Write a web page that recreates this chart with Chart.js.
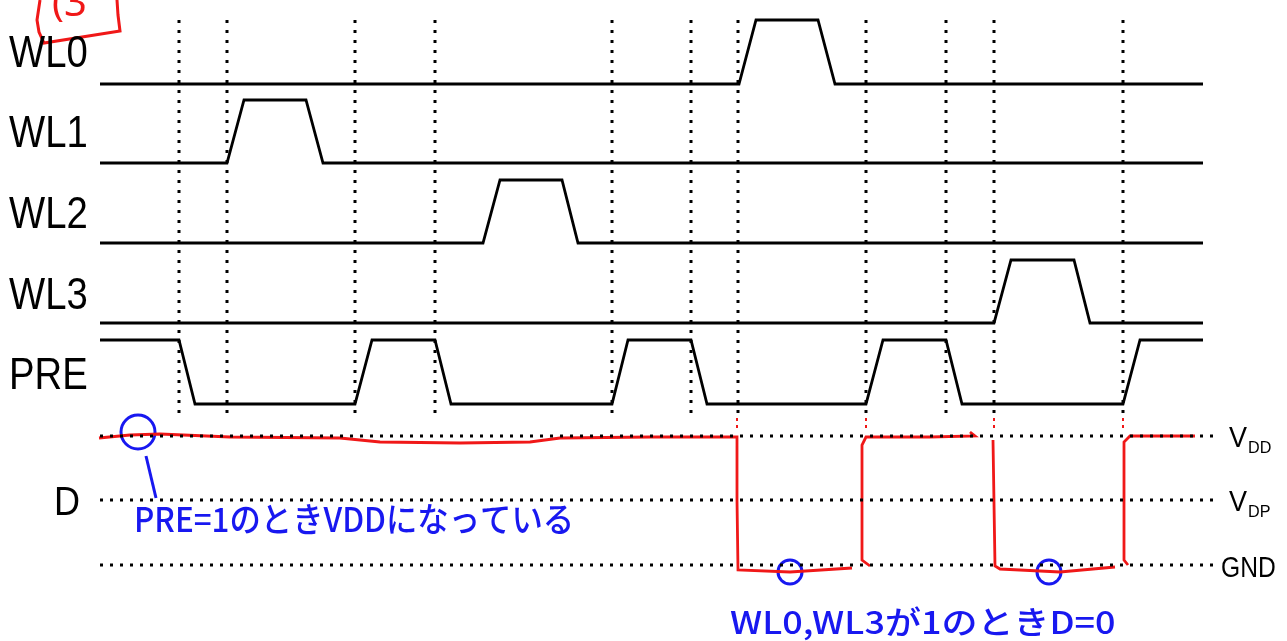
<!DOCTYPE html>
<html>
<head>
<meta charset="utf-8">
<script src="https://cdn.jsdelivr.net/npm/chart.js@4"></script>
<style>
  html, body { margin: 0; padding: 0; background: #fff; }
  #wrap { width: 1287px; height: 641px; position: relative; }
</style>
</head>
<body>
<div id="wrap"><canvas id="timing"></canvas></div>
<script>
(function () {
  "use strict";

  /* ===== Signals (time on x, level on y; drawing units of the sheet) ===== */
  var SIGNALS = ["WL0", "WL1", "WL2", "WL3", "PRE"];
  var SIGNAL_LABEL_Y = [67, 147, 228, 309, 389];

  var WL0_T = [100, 739, 756, 818, 835, 1203];
  var WL0_V = [84, 84, 20, 20, 84, 84];
  var WL1_T = [100, 227, 244, 306, 323, 1203];
  var WL1_V = [163, 163, 100, 100, 163, 163];
  var WL2_T = [100, 483, 500, 562, 578, 1203];
  var WL2_V = [243, 243, 180, 180, 243, 243];
  var WL3_T = [100, 994, 1011, 1074, 1090, 1203];
  var WL3_V = [323, 323, 260, 260, 323, 323];
  var PRE_T = [100, 179, 195, 355, 372, 435, 451, 612, 628, 691, 707, 866, 883, 946, 962, 1123, 1140, 1203];
  var PRE_V = [340, 340, 404, 404, 340, 340, 404, 404, 340, 340, 404, 404, 340, 340, 404, 404, 340, 340];

  // dotted time markers
  var MARK_T = [179, 227, 355, 435, 612, 691, 738, 866, 946, 994, 1123];
  var MARK_TOP = 20;
  var MARK_BOT = 416;

  // D levels
  var LEVEL_NAMES = ["VDD", "VDP", "GND"];
  var LEVEL_Y = [436, 500, 565];
  var LEVEL_X0 = 100;
  var LEVEL_X1 = 1215;

  // hand drawn D trace (red), null = pen lifted
  var D_T = [99, 130, 160, 230, 340, 380, 460, 530, 560, 650, 737, 737, 738, 790, 852,
             null, 870, 862, 862, 866, 930, 975, 970,
             null, 993, 995, 1000, 1060, 1115,
             null, 1128, 1124, 1124, 1130, 1195];
  var D_V = [438, 435, 434, 437, 438, 442, 443, 442, 438, 437, 437, 500, 570, 572, 568,
             null, 566, 560, 445, 437, 437, 436, 432,
             null, 440, 566, 569, 572, 567,
             null, 565, 560, 442, 436, 436];
  var TICK_T = [737, 737, null, 866, 866, null, 994, 994, null, 1123, 1123];
  var TICK_V = [418, 430, null, 418, 430, null, 418, 430, null, 418, 430];

  // red box top-left
  var BOX_T = [40, 37, 39, 44, 120, 118, 117];
  var BOX_V = [0, 20, 32, 43, 31, 15, 0];

  // blue marks
  var CIRCLE_T = [138, 790, 1049];
  var CIRCLE_V = [432, 572, 572];
  var CIRCLE_R = [17, 12, 12];
  var LEADER_T = [146, 156];
  var LEADER_V = [456, 498];

  var NOTE_TOP = "PRE=1のときVDDになっている";
  var NOTE_BOTTOM = "WL0,WL3が1のときD=0";

  var BLACK = "#000000";
  var RED = "#f01818";
  var BLUE = "#1818f0";

  function pts(t, v) {
    var out = [];
    for (var i = 0; i < t.length; i++) {
      out.push(t[i] === null ? { x: NaN, y: null } : { x: t[i], y: v[i] });
    }
    return out;
  }

  function lineSet(t, v, color, width, dash) {
    return {
      data: pts(t, v),
      showLine: true,
      borderColor: color,
      backgroundColor: color,
      borderWidth: width,
      borderDash: dash || [],
      pointRadius: 0,
      spanGaps: false,
      tension: 0,
      fill: false,
      borderCapStyle: "butt",
      borderJoinStyle: "miter"
    };
  }

  var datasets = [];

  MARK_T.forEach(function (t) {
    datasets.push(lineSet([t, t], [MARK_TOP, MARK_BOT], BLACK, 3, [3, 7]));
  });
  LEVEL_Y.forEach(function (y) {
    datasets.push(lineSet([LEVEL_X0, LEVEL_X1], [y, y], BLACK, 3, [3, 7]));
  });

  datasets.push(lineSet(WL0_T, WL0_V, BLACK, 2.8));
  datasets.push(lineSet(WL1_T, WL1_V, BLACK, 2.8));
  datasets.push(lineSet(WL2_T, WL2_V, BLACK, 2.8));
  datasets.push(lineSet(WL3_T, WL3_V, BLACK, 2.8));
  datasets.push(lineSet(PRE_T, PRE_V, BLACK, 2.8));

  datasets.push(lineSet(D_T, D_V, RED, 2.8));
  datasets.push(lineSet(TICK_T, TICK_V, RED, 2, [3, 4]));
  datasets.push(lineSet(BOX_T, BOX_V, RED, 3));
  datasets.push(lineSet(LEADER_T, LEADER_V, BLUE, 3));

  datasets.push({
    data: pts(CIRCLE_T, CIRCLE_V),
    showLine: false,
    pointStyle: "circle",
    pointRadius: CIRCLE_R,
    pointBorderWidth: 3,
    pointBorderColor: BLUE,
    pointBackgroundColor: "rgba(0,0,0,0)"
  });

  function drawLabel(ctx, text, x, y, size, sx) {
    ctx.save();
    ctx.font = size + "px 'Liberation Sans', Arial, sans-serif";
    ctx.translate(x, y);
    ctx.scale(sx, 1);
    ctx.fillText(text, 0, 0);
    ctx.restore();
  }

  var labelsPlugin = {
    id: "timingLabels",
    afterDraw: function (chart) {
      var ctx = chart.ctx;
      var xs = chart.scales.x;
      var ys = chart.scales.y;
      ctx.save();
      ctx.fillStyle = "#000";
      ctx.textBaseline = "alphabetic";
      ctx.textAlign = "left";

      SIGNALS.forEach(function (name, i) {
        drawLabel(ctx, name, xs.getPixelForValue(9), ys.getPixelForValue(SIGNAL_LABEL_Y[i]), 44, 0.87);
      });
      drawLabel(ctx, "D", xs.getPixelForValue(54), ys.getPixelForValue(515), 40, 0.9);

      // level names with subscripts
      var lx = xs.getPixelForValue(1229);
      [["V", "DD"], ["V", "DP"]].forEach(function (p, i) {
        var by = ys.getPixelForValue(LEVEL_Y[i] + 11);
        drawLabel(ctx, p[0], lx, by, 30, 0.9);
        drawLabel(ctx, p[1], lx + 19, by + 6, 17, 0.95);
      });
      drawLabel(ctx, "GND", xs.getPixelForValue(1221), ys.getPixelForValue(LEVEL_Y[2] + 12), 30, 0.82);

      // handwritten notes
      ctx.fillStyle = BLUE;
      ctx.save();
      ctx.font = "500 32px 'Noto Sans CJK JP', sans-serif";
      ctx.translate(xs.getPixelForValue(134), ys.getPixelForValue(532));
      ctx.scale(0.98, 1.05);
      ctx.fillText(NOTE_TOP, 0, 0);
      ctx.restore();

      ctx.save();
      ctx.font = "500 30px 'Noto Sans CJK JP', sans-serif";
      ctx.translate(xs.getPixelForValue(730), ys.getPixelForValue(634));
      ctx.scale(1.2, 1.05);
      ctx.fillText(NOTE_BOTTOM, 0, 0);
      ctx.restore();

      ctx.fillStyle = RED;
      ctx.font = "40px 'Noto Sans', sans-serif";
      ctx.fillText("(3", xs.getPixelForValue(52), ys.getPixelForValue(16));
      ctx.restore();
    }
  };

  new Chart(document.getElementById("timing").getContext("2d"), {
    type: "scatter",
    data: { datasets: datasets },
    options: {
      responsive: true,
      maintainAspectRatio: false,
      animation: false,
      events: [],
      layout: { padding: 0, autoPadding: false },
      clip: false,
      plugins: { legend: { display: false }, tooltip: { enabled: false } },
      scales: {
        x: { type: "linear", display: false, min: 0, max: 1287 },
        y: { type: "linear", display: false, min: 0, max: 641, reverse: true }
      }
    },
    plugins: [labelsPlugin]
  });
})();
</script>
</body>
</html>
